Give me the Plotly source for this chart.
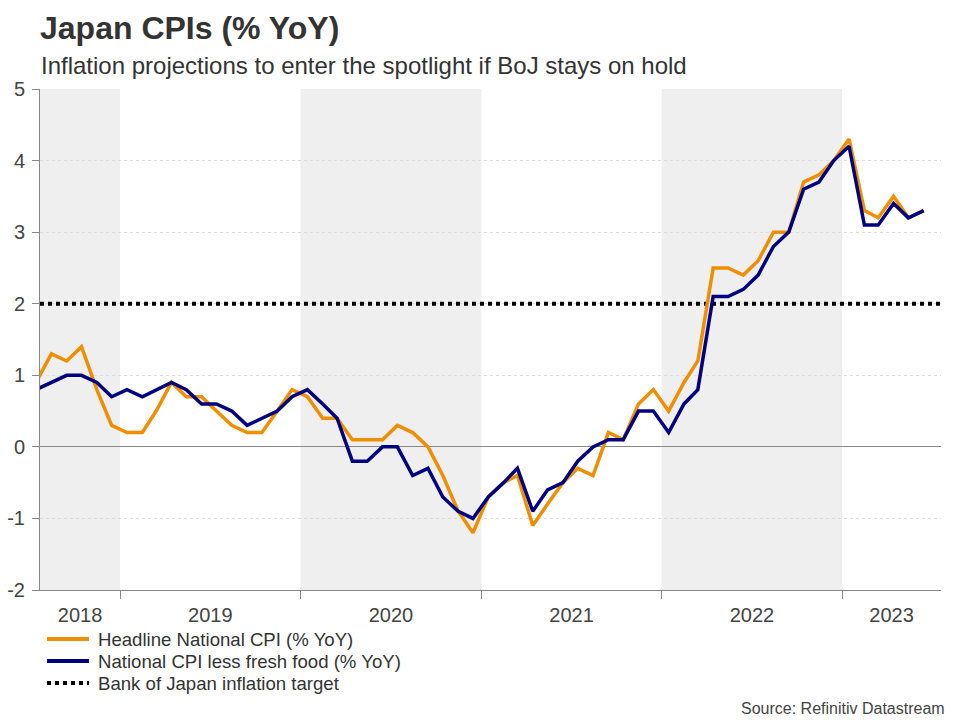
import pandas as pd
import plotly.graph_objects as go

# ---------------- data ----------------
start_month = "2018-07-01"
headline = [0.9, 1.3, 1.2, 1.4, 0.8, 0.3,
            0.2, 0.2, 0.5, 0.9, 0.7, 0.7, 0.5, 0.3, 0.2, 0.2, 0.5, 0.8,
            0.7, 0.4, 0.4, 0.1, 0.1, 0.1, 0.3, 0.2, 0.0, -0.4, -0.9, -1.2,
            -0.7, -0.5, -0.4, -1.1, -0.8, -0.5, -0.3, -0.4, 0.2, 0.1, 0.6, 0.8,
            0.5, 0.9, 1.2, 2.5, 2.5, 2.4, 2.6, 3.0, 3.0, 3.7, 3.8, 4.0,
            4.3, 3.3, 3.2, 3.5, 3.2, 3.3]
core = [0.8, 0.9, 1.0, 1.0, 0.9, 0.7,
        0.8, 0.7, 0.8, 0.9, 0.8, 0.6, 0.6, 0.5, 0.3, 0.4, 0.5, 0.7,
        0.8, 0.6, 0.4, -0.2, -0.2, 0.0, 0.0, -0.4, -0.3, -0.7, -0.9, -1.0,
        -0.7, -0.5, -0.3, -0.9, -0.6, -0.5, -0.2, 0.0, 0.1, 0.1, 0.5, 0.5,
        0.2, 0.6, 0.8, 2.1, 2.1, 2.2, 2.4, 2.8, 3.0, 3.6, 3.7, 4.0,
        4.2, 3.1, 3.1, 3.4, 3.2, 3.3]
boj_target = 2.0
years = [2018, 2019, 2020, 2021, 2022, 2023]
shaded_years = [2018, 2020, 2022]
x_start, x_end = "2018-07-23", "2023-07-20"
y_ticks = [-2, -1, 0, 1, 2, 3, 4, 5]
y_ticktext = ["-2", "-1", "0", "1", "2", "3", "4", "5"]

names = ["Headline National CPI (% YoY)",
         "National CPI less fresh food (% YoY)",
         "Bank of Japan inflation target"]
ORANGE = "#EF8F00"
NAVY = "#000080"
FONT = "Liberation Sans, Arial, sans-serif"

dates = pd.date_range(start_month, periods=len(headline), freq="MS") + pd.Timedelta(days=14)

fig = go.Figure()
fig.add_trace(go.Scatter(x=[x_start, x_end], y=[boj_target, boj_target], mode="lines",
                         line=dict(color="#000000", width=4, dash="dot"),
                         name=names[2], hoverinfo="skip"))
fig.add_trace(go.Scatter(x=dates, y=headline, mode="lines",
                         line=dict(color=ORANGE, width=3.5), name=names[0]))
fig.add_trace(go.Scatter(x=dates, y=core, mode="lines",
                         line=dict(color=NAVY, width=3.5), name=names[1]))

# shaded year bands
t0 = pd.Timestamp(x_start)
t1 = pd.Timestamp(x_end)
for yr in shaded_years:
    a = max(pd.Timestamp(f"{yr}-01-01"), t0)
    b = min(pd.Timestamp(f"{yr + 1}-01-01"), t1)
    fig.add_shape(type="rect", xref="x", yref="paper", x0=a, x1=b, y0=0, y1=1,
                  fillcolor="#efefef", line_width=0, layer="below")

# year label positions: centre of the visible part of each year
label_pos = []
for yr in years:
    a = max(pd.Timestamp(f"{yr}-01-01"), t0)
    b = min(pd.Timestamp(f"{yr + 1}-01-01"), t1)
    label_pos.append(a + (b - a) / 2)
boundaries = [pd.Timestamp(f"{yr}-01-01") for yr in years[1:]]

fig.update_layout(
    width=960, height=720,
    margin=dict(l=40, r=19, t=89, b=130, autoexpand=False),
    paper_bgcolor="white", plot_bgcolor="white",
    font=dict(family=FONT, color="#444444"),
    showlegend=False,
    title=dict(text="<b>Japan CPIs (% YoY)</b>", x=40 / 960, xref="container", xanchor="left",
               y=1 - 28 / 720, yref="container", yanchor="middle",
               font=dict(size=32, color="#333333", family=FONT)),
    xaxis=dict(type="date", range=[x_start, x_end],
               tickmode="array", tickvals=label_pos, ticktext=[str(y) for y in years],
               ticks="", showgrid=False, zeroline=False,
               showline=True, linecolor="#888888", linewidth=1,
               tickfont=dict(size=20, color="#444444"), ticklabelstandoff=7,
               minor=dict(tickmode="array", tickvals=boundaries, ticks="outside",
                          ticklen=8, tickcolor="#888888", tickwidth=1, showgrid=False)),
    yaxis=dict(range=[-2, 5], tickmode="array", tickvals=y_ticks, ticktext=y_ticktext,
               showgrid=True, gridcolor="#dddddd", griddash="dot", gridwidth=1,
               zeroline=True, zerolinecolor="#888888", zerolinewidth=1,
               showline=True, linecolor="#888888", linewidth=1,
               ticks="outside", ticklen=7, tickcolor="#888888",
               tickfont=dict(size=20, color="#444444"), ticklabelstandoff=3),
)

W, H = 901, 501
def px(xp):
    return (xp - 40) / W
def py(yp):
    return (590 - yp) / H

# subtitle
fig.add_annotation(text="Inflation projections to enter the spotlight if BoJ stays on hold",
                   xref="paper", yref="paper", x=px(39), y=py(66),
                   xanchor="left", yanchor="middle", showarrow=False,
                   font=dict(size=24, color="#333333", family=FONT))

# manual legend
leg_rows = [(639, ORANGE, "solid", 4), (661, NAVY, "solid", 4), (683, "#000000", "dot", 4)]
for (yc, col, dash, w), nm in zip(leg_rows, names):
    fig.add_shape(type="line", xref="paper", yref="paper",
                  x0=px(47), x1=px(89), y0=py(yc), y1=py(yc),
                  line=dict(color=col, width=w, dash=dash))
    fig.add_annotation(text=nm, xref="paper", yref="paper", x=px(96), y=py(yc),
                       xanchor="left", yanchor="middle", showarrow=False,
                       font=dict(size=18.6, color="#333333", family=FONT))

fig.add_annotation(text="Source: Refinitiv Datastream", xref="paper", yref="paper",
                   x=px(947), y=py(708), xanchor="right", yanchor="middle", showarrow=False,
                   font=dict(size=16, color="#444444", family=FONT))

fig.write_html("out.html", config={"displayModeBar": False},
               post_script="document.body.style.margin='0px';")
